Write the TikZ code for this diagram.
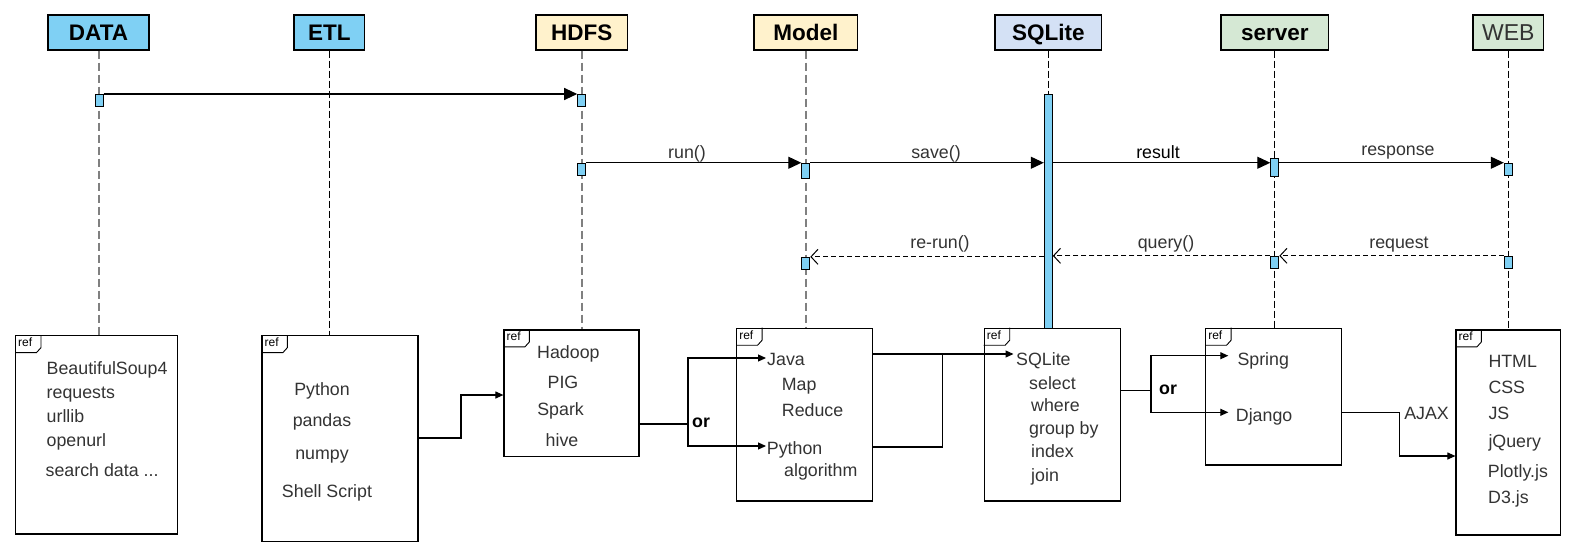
\documentclass[tikz,border=0pt]{standalone}
\usepackage{fontspec}
\setmainfont{Liberation Sans}
\usetikzlibrary{arrows.meta,calc}
\definecolor{actblue}{HTML}{7FD0F4}
\definecolor{hyellow}{HTML}{FFF2CC}
\definecolor{hblue}{HTML}{D4E1F5}
\definecolor{hgreen}{HTML}{D5E8D4}
\definecolor{txtgray}{HTML}{333333}
\definecolor{lifegray}{HTML}{808080}
\tikzset{
  hdr/.style={draw=black, line width=1.2pt, minimum height=35pt, inner sep=0pt,
    text height=15.5pt, text depth=0pt, font=\fontsize{22.5}{24}\selectfont\bfseries},
  actbox/.style={draw=black, line width=1pt, fill=actblue, minimum width=8pt, inner sep=0pt},
  refbox/.style={draw=black, line width=1.2pt, inner sep=0pt},
  lifethick/.style={draw=lifegray, line width=2pt, dash pattern=on 8pt off 4pt},
  lifethin/.style={draw=black, line width=0.9pt, dash pattern=on 7pt off 3pt},
  msg/.style={line width=1.1pt, -{Triangle[length=13pt,width=12pt]}},
  retmsg/.style={line width=1.1pt, dash pattern=on 5pt off 3pt, -{Straight Barb[length=7pt,width=15pt,line width=1pt]}},
  lbl/.style={font=\fontsize{17.8}{20}\selectfont, text=txtgray, inner sep=0pt, text height=12.5pt, text depth=0pt},
  item/.style={lbl, anchor=west},
  citem/.style={lbl},
  link/.style={line width=1.1pt, -{Triangle[length=8pt,width=7pt]}},
  plainln/.style={line width=1.1pt},
  orlbl/.style={font=\fontsize{17.8}{20}\selectfont\bfseries, inner sep=0pt, text height=9pt, text depth=0pt},
  tabtxt/.style={font=\fontsize{12}{13}\selectfont, inner sep=0pt, anchor=north west},
}
\newcommand\mkreftab[1]{%
  \draw[line width=0.9pt] (#1.north west) ++(26,0) -- ++(0,12.5) -- ++(-4.5,5) -- ++(-21.5,0);
  \node[tabtxt] at ([xshift=3pt,yshift=-2.5pt]#1.north west) {ref};}
\begin{document}
\begin{tikzpicture}[x=1pt,y=-1pt]
\useasboundingbox (0,0) rectangle (1576,557);
% headers
\node[hdr, fill=actblue, minimum width=101pt] (hDATA) at (98.5,32.5) {DATA};
\node[hdr, fill=actblue, minimum width=70.5pt] (hETL) at (329.3,32.5) {ETL};
\node[hdr, fill=hyellow, minimum width=91.5pt] (hHDFS) at (581.7,32.5) {HDFS};
\node[hdr, fill=hyellow, minimum width=103.5pt] (hModel) at (805.8,32.5) {Model};
\node[hdr, fill=hblue, minimum width=106.5pt] (hSQL) at (1048.3,32.5) {SQLite};
\node[hdr, fill=hgreen, minimum width=107.5pt] (hServer) at (1274.8,32.5) {server};
\node[hdr, fill=hgreen, minimum width=70.5pt, font=\fontsize{23}{24}\selectfont, text=txtgray] (hWEB) at (1508.3,32.5) {WEB};
% ref boxes
\node[refbox, minimum width=161.6pt, minimum height=198.3pt] (rDATA) at (96.4,434.85) {};
\node[refbox, minimum width=156pt, minimum height=206pt] (rETL) at (340,438.7) {};
\node[refbox, minimum width=135pt, minimum height=126.7pt] (rHDFS) at (571.5,393.35) {};
\node[refbox, minimum width=135.6pt, minimum height=172.7pt] (rModel) at (804.5,414.65) {};
\node[refbox, minimum width=136.4pt, minimum height=172.7pt] (rSQL) at (1052.5,414.65) {};
\node[refbox, minimum width=135.6pt, minimum height=136.7pt] (rServer) at (1273.5,396.65) {};
\node[refbox, minimum width=104.7pt, minimum height=205pt] (rWEB) at (1508.35,432.5) {};
\mkreftab{rDATA}\mkreftab{rETL}\mkreftab{rHDFS}\mkreftab{rModel}\mkreftab{rSQL}\mkreftab{rServer}\mkreftab{rWEB}
% lifelines
\draw[lifethick] ([xshift=0.5pt]hDATA.south) -- ([xshift=0.5pt]hDATA.south |- rDATA.north);
\draw[lifethin] (hETL.south) -- (hETL.south |- rETL.north);
\draw[lifethick] (hHDFS.south) -- (hHDFS.south |- rHDFS.north);
\draw[lifethick] (hModel.south) -- (hModel.south |- rModel.north);
\draw[lifethin] (hServer.south) -- (hServer.south |- rServer.north);
\draw[lifethin] (hWEB.south) -- (hWEB.south |- rWEB.north);
% SQLite bar
\node[actbox, minimum height=234pt] (sqlbar) at (1048.3,211) {};
\draw[lifethin] (hSQL.south) -- (sqlbar.north);
% activations
\node[actbox, minimum height=12pt] (a1) at (99,100) {};
\node[actbox, minimum height=12pt] (a2) at (581.7,100) {};
\node[actbox, minimum height=12.7pt] (a3) at (581.7,169.6) {};
\node[actbox, minimum height=15.7pt] (a4) at (805.8,171.1) {};
\node[actbox, minimum height=18pt] (a5) at (1274.8,167) {};
\node[actbox, minimum height=12.7pt] (a6) at (1508.3,169.6) {};
\node[actbox, minimum height=12pt] (a7) at (805.8,263.3) {};
\node[actbox, minimum height=12pt] (a8) at (1274.8,262.3) {};
\node[actbox, minimum height=12pt] (a9) at (1508.3,262.3) {};
% messages
\draw[msg] ([yshift=-0.5pt]a1.north east) -- ([yshift=-0.5pt]a2.north west);
\draw[msg] (a3.north east) -- (a4.north west);
\draw[msg] (a4.north east) -- (sqlbar.west |- a4.north);
\draw[msg] (sqlbar.east |- a4.north) -- (a5.west |- a4.north);
\draw[msg] (a5.east |- a6.north) -- (a6.north west);
\draw[retmsg] (a9.north west) -- (a8.north east);
\draw[retmsg] (a8.north west) -- (sqlbar.east |- a8.north);
\draw[retmsg] (sqlbar.west |- a7.north) -- (a7.north east);
% message labels
\node[lbl] (lrun) at (687,152) {run()};
\node[lbl] (lsave) at (936,152) {save()};
\node[lbl, text=black] (lres) at (1158,152) {result};
\node[lbl] (lresp) at (1398,149) {response};
\node[lbl] (lrerun) at (940,242) {re-run()};
\node[lbl] (lquery) at (1166,242) {query()};
\node[lbl] (lreq) at (1399,242) {request};
% DATA ref content
\node[item] (d1) at (46.5,368.5) {BeautifulSoup4};
\node[item] (d2) at (46.5,392) {requests};
\node[item] (d3) at (46.5,416) {urllib};
\node[item] (d4) at (46.5,440.5) {openurl};
\node[item] (d5) at (45.5,470) {search data ...};
% ETL ref content
\node[citem] (e1) at (322,389) {Python};
\node[citem] (e2) at (322,420) {pandas};
\node[citem] (e3) at (322,453) {numpy};
\node[citem] (e4) at (327,491) {Shell Script};
% HDFS ref content
\node[citem] (f1) at (568.4,352.5) {Hadoop};
\node[citem] (f2) at (563,382.5) {PIG};
\node[citem] (f3) at (560.6,409) {Spark};
\node[citem] (f4) at (562,440) {hive};
% Model ref content
\node[item] (java) at (767,359) {Java};
\node[item] (m2) at (781.7,384) {Map};
\node[item] (m3) at (781.7,410) {Reduce};
\node[item] (pyM) at (766.7,448) {Python};
\node[item] (m5) at (784,470) {algorithm};
% SQLite ref content
\node[item] (sqlt) at (1016,359) {SQLite};
\node[item] (s2) at (1029,383) {select};
\node[item] (s3) at (1031,405) {where};
\node[item] (s4) at (1029,428) {group by};
\node[item] (s5) at (1031,451.5) {index};
\node[item] (s6) at (1031,475) {join};
% server ref content
\node[item] (spring) at (1237.3,359) {Spring};
\node[item] (django) at (1235.7,415.5) {Django};
% WEB ref content
\node[item] (w1) at (1488.3,361) {HTML};
\node[item] (w2) at (1488.3,387.5) {CSS};
\node[item] (w3) at (1488.3,413.5) {JS};
\node[item] (w4) at (1488.3,441) {jQuery};
\node[item] (w5) at (1487.7,471) {Plotly.js};
\node[item] (w6) at (1488,497.5) {D3.js};
% connectors
\coordinate (etlBend) at (461,395);
\draw[link] (rETL.east |- 0,438) -| (etlBend) -- (rHDFS.west |- etlBend);
\coordinate (orA) at (688,424);
\draw[plainln] (rHDFS.east |- orA) -- (orA);
\coordinate (javaIn) at (766,358);
\coordinate (pyIn) at (766,446);
\draw[link] (orA) |- (javaIn);
\draw[link] (orA) |- (pyIn);
\node[orlbl, anchor=west] (or1) at (692,423) {or};
\coordinate (mjoin) at (942.7,354);
\coordinate (sqlIn) at (1013.5,354);
\draw[link] (rModel.east |- mjoin) -- (sqlIn);
\draw[plainln] (rModel.east |- 0,447) -| (mjoin);
\coordinate (orB) at (1151,390.7);
\coordinate (springIn) at (1228.3,355.7);
\coordinate (djangoIn) at (1228.3,412.3);
\draw[plainln] (rSQL.east |- orB) -- (orB);
\draw[link] (orB) |- (springIn);
\draw[link] (orB) |- (djangoIn);
\node[orlbl, anchor=west] (or2) at (1159,389.5) {or};
\coordinate (ajBend) at (1399.3,456);
\draw[link] (rServer.east |- 0,412.3) -| (ajBend) -- (rWEB.west |- ajBend);
\node[lbl] (ajax) at (1426.5,413.5) {AJAX};
\end{tikzpicture}
\end{document}
